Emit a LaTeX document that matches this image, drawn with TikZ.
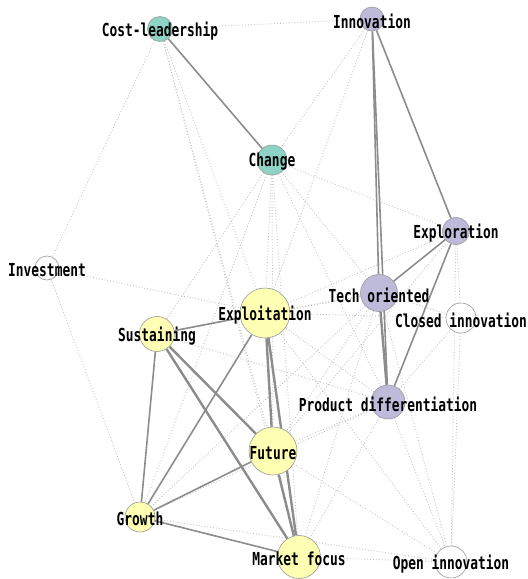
\documentclass[tikz,border=0pt]{standalone}
\usepackage{fontspec}
\usetikzlibrary{backgrounds}
\newfontfamily\lblfont{DejaVu Sans Mono Bold}[FakeStretch=0.72]
\definecolor{cteal}{HTML}{8DD3C7}
\definecolor{cpurp}{HTML}{BEBADA}
\definecolor{cyell}{HTML}{FFFFB3}
\definecolor{edgegray}{HTML}{8C8C8C}
\definecolor{weakgray}{HTML}{C4C4C4}
\tikzset{
  nd/.style={circle, draw=gray!80, line width=0.6pt, inner sep=0pt},
  lbl/.style={font=\lblfont\fontsize{17.9}{19}\selectfont, text=black, inner sep=0pt, yshift=-2pt},
  strong/.style={draw=edgegray, line width=1.6pt},
  strongest/.style={draw=edgegray, line width=2.4pt},
  weak/.style={draw=weakgray, line width=0.9pt, dotted},
}
\begin{document}
\begin{tikzpicture}[x=1pt, y=-1pt]
\useasboundingbox (0,0) rectangle (528,579);
% nodes
\node[nd, fill=cteal, minimum size=25pt] (cl) at (160,29) {};
\node[nd, fill=cpurp, minimum size=24pt] (inn) at (372,19) {};
\node[nd, fill=cteal, minimum size=30pt] (ch) at (272,160) {};
\node[nd, fill=cpurp, minimum size=27pt] (exr) at (456,231) {};
\node[nd, fill=white, minimum size=24pt] (inv) at (47,268) {};
\node[nd, fill=cpurp, minimum size=37pt] (tech) at (379,293) {};
\node[nd, fill=white, minimum size=30pt] (clo) at (461,318) {};
\node[nd, fill=cyell, minimum size=50pt] (exp) at (265,313) {};
\node[nd, fill=cyell, minimum size=35pt] (sus) at (157,334) {};
\node[nd, fill=cpurp, minimum size=34pt] (pd) at (388,402) {};
\node[nd, fill=cyell, minimum size=48pt] (fut) at (273,451) {};
\node[nd, fill=cyell, minimum size=30pt] (gro) at (140,517) {};
\node[nd, fill=cyell, minimum size=43pt] (mf) at (299,557) {};
\node[nd, fill=white, minimum size=32pt] (open) at (451,562) {};
% edges
\begin{scope}[on background layer]
  % weak links
  \foreach \a/\b in {cl/inn, cl/inv, cl/exp, cl/fut, cl/mf,
                     inn/ch, inn/exp,
                     ch/exr, ch/tech, ch/pd, ch/exp, ch/sus, ch/fut, ch/mf, ch/gro,
                     inv/exp, inv/gro,
                     exr/exp, exr/fut, exr/open, exr/clo,
                     tech/exp, tech/fut, tech/mf, tech/sus, tech/clo, tech/gro, tech/open,
                     pd/exp, pd/fut, pd/mf, pd/sus, pd/gro, pd/open, pd/clo,
                     clo/open, clo/exp,
                     open/mf, open/fut, open/gro, open/exp}
    \draw[weak] (\a) -- (\b);
  % strong links
  \foreach \a/\b in {cl/ch, inn/tech, inn/pd, inn/exr, exr/tech, exr/pd,
                     exp/sus, exp/gro, sus/gro, gro/fut, gro/mf}
    \draw[strong] (\a) -- (\b);
  \foreach \a/\b in {tech/pd, exp/fut, exp/mf, sus/fut, sus/mf, fut/mf}
    \draw[strongest] (\a) -- (\b);
\end{scope}
% labels
\node[lbl] (l-cl) at (cl) {Cost-leadership};
\node[lbl] (l-inn) at (inn) {Innovation};
\node[lbl] (l-ch) at (ch) {Change};
\node[lbl] (l-exr) at (exr) {Exploration};
\node[lbl] (l-inv) at (inv) {Investment};
\node[lbl] (l-tech) at (tech) {Tech oriented};
\node[lbl] (l-clo) at (clo) {Closed innovation};
\node[lbl] (l-exp) at (exp) {Exploitation};
\node[lbl] (l-sus) at (sus) {Sustaining};
\node[lbl] (l-pd) at (pd) {Product differentiation};
\node[lbl] (l-fut) at (fut) {Future};
\node[lbl] (l-gro) at (gro) {Growth};
\node[lbl] (l-mf) at (mf) {Market focus};
\node[lbl] (l-open) at (open) {Open innovation};
\end{tikzpicture}
\end{document}
